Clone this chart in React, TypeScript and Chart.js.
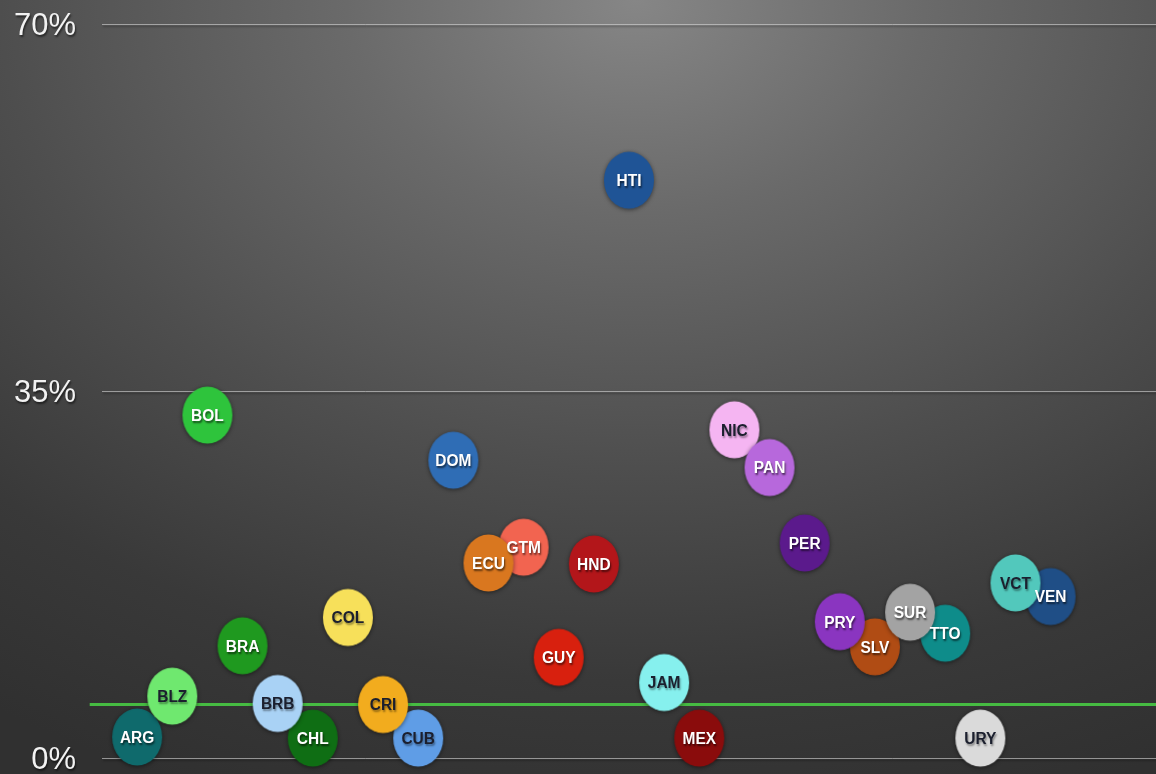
import { useEffect, useRef } from 'react';
import { Chart, registerables } from 'chart.js';

Chart.register(...registerables);

// ---- data ----
const countries = ['ARG', 'BLZ', 'BOL', 'BRA', 'BRB', 'CHL', 'COL', 'CRI', 'CUB', 'DOM', 'ECU', 'GTM', 'GUY', 'HND', 'HTI', 'JAM', 'MEX', 'NIC', 'PAN', 'PER', 'PRY', 'SLV', 'SUR', 'TTO', 'URY', 'VCT', 'VEN'];
const shareValues = [2.0, 5.9, 32.7, 10.7, 5.2, 1.9, 13.4, 5.1, 1.9, 28.4, 18.6, 20.1, 9.6, 18.5, 55.1, 7.2, 1.9, 31.3, 27.7, 20.5, 13.0, 10.6, 13.9, 11.9, 1.9, 16.7, 15.4];
const bubbleColors = ['#0f6a6c', '#6fe86f', '#2ec43c', '#1f991f', '#a9d2f5', '#0f6e14', '#f7e05a', '#f2ac1e', '#5f9de6', '#2f6db5', '#d9771f', '#f26450', '#d8200e', '#b3161a', '#1f5496', '#86f0ee', '#8a0c0c', '#f5b5f2', '#b768dc', '#5b1a8c', '#8a35c0', '#b04c14', '#a3a3a3', '#0e8c8a', '#dadada', '#52c8bc', '#1f4e86'];
const darkLabelCountries = ['BLZ', 'BRB', 'COL', 'CRI', 'CUB', 'JAM', 'NIC', 'URY', 'VCT'];
// painted first (bottom) to last (top)
const paintOrder = ['ARG', 'CHL', 'CUB', 'MEX', 'GTM', 'VEN', 'NIC', 'TTO', 'SLV', 'BLZ', 'BOL', 'BRA', 'BRB', 'COL', 'CRI', 'DOM', 'ECU', 'GUY', 'HND', 'HTI', 'JAM', 'PAN', 'PER', 'URY', 'VCT', 'PRY', 'SUR'];
const yTicks = [0, 35, 70];
const referenceLine = 5.1;

const BUBBLE_RX = 25;
const BUBBLE_RY = 28.5;

function makeBubble(color: string): HTMLCanvasElement {
  const c = document.createElement('canvas');
  c.width = 66;
  c.height = 74;
  const g = c.getContext('2d')!;
  g.shadowColor = 'rgba(0,0,0,0.5)';
  g.shadowBlur = 4;
  g.shadowOffsetY = 1;
  g.beginPath();
  g.ellipse(33, 37, BUBBLE_RX, BUBBLE_RY, 0, 0, Math.PI * 2);
  g.fillStyle = color;
  g.fill();
  return c;
}

export default function App() {
  const canvasRef = useRef<HTMLCanvasElement | null>(null);

  useEffect(() => {
    if (!canvasRef.current) return;

    const bubbleSets = countries.map((code, i) => ({
      type: 'scatter' as const,
      label: code,
      code,
      textColor: darkLabelCountries.includes(code) ? '#1b1f2e' : '#ffffff',
      data: [{ x: i, y: shareValues[i] }],
      pointStyle: makeBubble(bubbleColors[i]),
      pointRadius: 25,
      pointHoverRadius: 25,
      showLine: false,
      clip: false as const,
      order: paintOrder.length - paintOrder.indexOf(code),
    }));

    const lineSet = {
      type: 'line' as const,
      label: 'reference',
      data: [
        { x: -1.35, y: referenceLine },
        { x: 29, y: referenceLine },
      ],
      borderColor: '#46bb42',
      borderWidth: 3,
      pointRadius: 0,
      showLine: true,
      clip: false as const,
      order: 1000,
    };

    const labelPlugin = {
      id: 'bubbleLabels',
      beforeDraw(chart: any) {
        const ctx = chart.ctx;
        ctx.shadowColor = 'rgba(0,0,0,0.55)';
        ctx.shadowBlur = 2;
        ctx.shadowOffsetX = 1;
        ctx.shadowOffsetY = 2;
      },
      beforeDatasetsDraw(chart: any) {
        const ctx = chart.ctx;
        ctx.shadowColor = 'rgba(0,0,0,0)';
        ctx.shadowBlur = 0;
        ctx.shadowOffsetX = 0;
        ctx.shadowOffsetY = 0;
      },
      afterDatasetsDraw(chart: any) {
        const ctx = chart.ctx;
        chart.data.datasets.forEach((ds: any, idx: number) => {
          if (!ds.code) return;
          const pt = chart.getDatasetMeta(idx).data[0];
          if (!pt) return;
          ctx.save();
          ctx.translate(pt.x, pt.y);
          ctx.scale(1, 1.12);
          ctx.font = 'bold 15.5px "Liberation Sans", Arial, sans-serif';
          ctx.textAlign = 'center';
          ctx.textBaseline = 'middle';
          ctx.shadowColor = ds.textColor === '#ffffff' ? 'rgba(0,0,0,0.6)' : 'rgba(0,0,0,0.4)';
          ctx.shadowBlur = 2;
          ctx.shadowOffsetX = 1;
          ctx.shadowOffsetY = 2;
          ctx.fillStyle = ds.textColor;
          ctx.fillText(ds.code, 0, 1);
          ctx.restore();
        });
      },
    };

    const chart = new Chart(canvasRef.current, {
      type: 'scatter',
      data: { datasets: [lineSet, ...bubbleSets] as any },
      options: {
        animation: false,
        responsive: false,
        layout: { autoPadding: false, padding: { top: 24, bottom: 16, left: 0, right: 0 } },
        plugins: {
          legend: { display: false },
          tooltip: { enabled: false },
        },
        scales: {
          x: {
            type: 'linear',
            display: false,
            min: -1,
            max: 29,
          },
          y: {
            type: 'linear',
            min: 0,
            max: 70,
            afterBuildTicks: (scale: any) => {
              scale.ticks = yTicks.map((v) => ({ value: v }));
            },
            afterFit: (scale: any) => {
              scale.width = 102;
              scale.paddingTop = 0;
              scale.paddingBottom = 0;
            },
            border: { display: false },
            grid: {
              color: 'rgba(215,215,215,0.6)',
              lineWidth: 1,
              drawTicks: false,
            },
            ticks: {
              padding: 26,
              labelOffset: 2,
              color: '#f2f2f2',
              font: { family: '"Liberation Sans", Arial, sans-serif', size: 31 },
              callback: (v: any) => `${v}%`,
            },
          },
        },
      },
      plugins: [labelPlugin],
    });

    return () => chart.destroy();
  }, []);

  return (
    <div
      style={{
        position: 'fixed',
        left: 0,
        top: 0,
        width: 1156,
        height: 774,
        background:
          'radial-gradient(ellipse 100% 110% at 55% 0%, #868686 0%, #6a6a6a 25%, #4e4e4e 55%, #393939 80%, #303030 100%)',
      }}
    >
      <canvas ref={canvasRef} width={1156} height={774} style={{ display: 'block', width: 1156, height: 774 }} />
    </div>
  );
}
